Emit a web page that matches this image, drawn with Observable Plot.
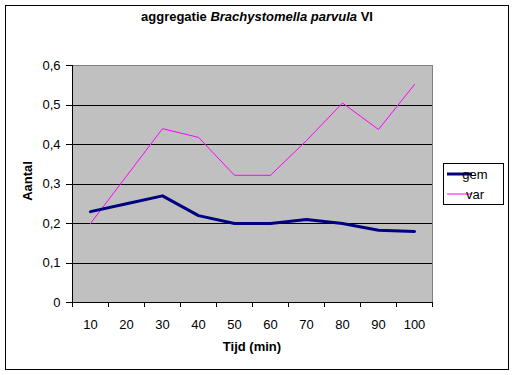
<!DOCTYPE html>
<html><head><meta charset="utf-8">
<script src="https://cdn.jsdelivr.net/npm/d3@7"></script>
<script src="https://cdn.jsdelivr.net/npm/@observablehq/plot@0.6"></script>
<style>
body{margin:0;background:#fff}
svg{display:block}
</style>
</head><body><div id="chart"></div>
<script>
const tijd = [10, 20, 30, 40, 50, 60, 70, 80, 90, 100];
const gem  = [0.23, 0.25, 0.27, 0.22, 0.20, 0.20, 0.21, 0.20, 0.183, 0.18];
const varV = [0.20, 0.32, 0.44, 0.418, 0.322, 0.322, 0.41, 0.505, 0.438, 0.552];
const yTicks = [0, 0.1, 0.2, 0.3, 0.4, 0.5, 0.6];
const seriesNames = ["gem", "var"];
const seriesColors = ["#000080", "#FF00FF"];
const seriesWidths = [3, 1];
const titleParts = ["aggregatie ", "Brachystomella parvula", " VI"];
const xTitle = "Tijd (min)";
const yTitle = "Aantal";

const bounds = tijd.map(t => t - 5).concat([tijd[tijd.length - 1] + 5]);
const rows = tijd.map((t, i) => ({t, gem: gem[i], v: varV[i]}));
const fmt = d => d === 0 ? "0" : d.toFixed(1).replace(".", ",");
const FONT = "Liberation Sans, Arial, sans-serif";
const crisp = {shapeRendering: "crispEdges"};

const chart = Plot.plot({
  width: 514, height: 375,
  marginLeft: 72, marginRight: 82, marginTop: 65, marginBottom: 73,
  style: {fontFamily: FONT, fontSize: "13px", color: "black", background: "white"},
  x: {type: "linear", domain: [bounds[0], bounds[bounds.length - 1]], axis: null},
  y: {domain: [0, 0.6], axis: null},
  marks: [
    Plot.frame({fill: "#C0C0C0", stroke: "none"}),
    Plot.ruleY(yTicks.slice(1, -1), {stroke: "black", strokeWidth: 1, ...crisp}),
    Plot.ruleY([yTicks[yTicks.length - 1]], {stroke: "#808080", ...crisp}),
    Plot.ruleX([bounds[bounds.length - 1]], {stroke: "#808080", ...crisp}),
    Plot.line(rows, {x: "t", y: "v", stroke: seriesColors[1], strokeWidth: seriesWidths[1]}),
    Plot.line(rows, {x: "t", y: "gem", stroke: seriesColors[0], strokeWidth: seriesWidths[0]}),
    Plot.ruleX([bounds[0]], {stroke: "black", ...crisp}),
    Plot.ruleY([0], {stroke: "black", ...crisp}),
    Plot.axisY({ticks: yTicks, tickSize: 6, tickPadding: 6, tickFormat: fmt, label: null, stroke: "black", strokeOpacity: 1, fontSize: 13, ...crisp}),
    Plot.axisX({ticks: bounds, tickSize: 5, tickFormat: () => "", label: null, strokeOpacity: 1, ...crisp}),
    Plot.axisX({ticks: tijd, tickSize: 0, tickPadding: 17, tickFormat: d => String(d), label: null, fontSize: 13})
  ]
});
document.getElementById("chart").appendChild(chart);

const svg = d3.select(chart);
// outer border
svg.append("rect").attr("x", 5.5).attr("y", 5.5).attr("width", 502.5).attr("height", 363.5)
  .attr("fill", "none").attr("stroke", "black").attr("stroke-width", 1).attr("shape-rendering", "crispEdges");
// title
const tt = svg.append("text").attr("x", 257).attr("y", 21).attr("text-anchor", "middle")
  .attr("font-family", FONT).attr("font-size", 13).attr("font-weight", "bold").attr("fill", "black");
titleParts.forEach((p, i) => tt.append("tspan").text(p).attr("font-style", i === 1 ? "italic" : "normal"));
// axis titles
svg.append("text").attr("x", 252).attr("y", 351).attr("text-anchor", "middle")
  .attr("font-family", FONT).attr("font-size", 13).attr("font-weight", "bold").text(xTitle);
svg.append("text").attr("transform", "translate(32,181) rotate(-90)").attr("text-anchor", "middle")
  .attr("font-family", FONT).attr("font-size", 13).attr("font-weight", "bold").text(yTitle);
// legend
const lg = svg.append("g");
lg.append("rect").attr("x", 443.5).attr("y", 163.5).attr("width", 60).attr("height", 40.5)
  .attr("fill", "white").attr("stroke", "black").attr("shape-rendering", "crispEdges");
seriesNames.forEach((n, i) => {
  const y = 174 + i * 20;
  lg.append("line").attr("x1", 447).attr("x2", 472).attr("y1", y).attr("y2", y)
    .attr("stroke", seriesColors[i]).attr("stroke-width", seriesWidths[i]);
  lg.append("text").attr("x", 475).attr("y", y + 4.5).attr("font-family", FONT).attr("font-size", 13).text(n);
});
</script>
</body></html>
